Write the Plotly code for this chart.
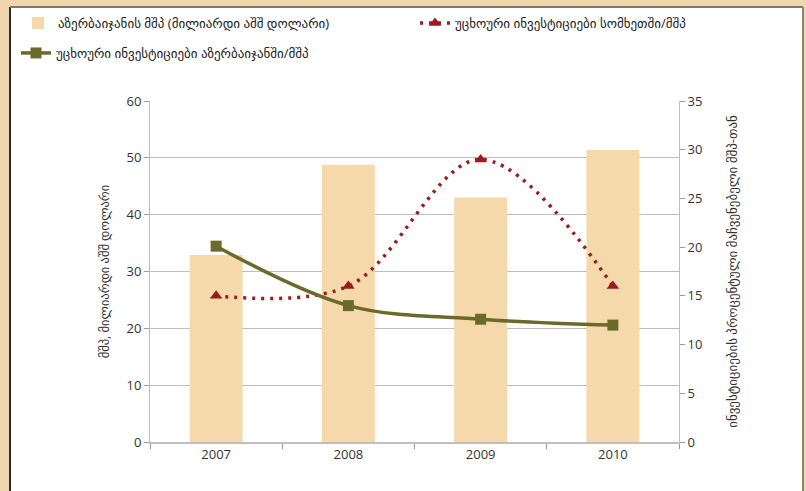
import plotly.graph_objects as go

years = ["2007", "2008", "2009", "2010"]
gdp_bn_usd = [32.9, 48.8, 43.0, 51.4]
fdi_armenia_pct = [15.0, 16.0, 29.0, 16.0]
fdi_azerbaijan_pct = [20.1, 14.0, 12.6, 12.0]

name_gdp = "აზერბაიჯანის მშპ (მილიარდი აშშ დოლარი)"
name_arm = "უცხოური ინვესტიციები სომხეთში/მშპ"
name_aze = "უცხოური ინვესტიციები აზერბაიჯანში/მშპ"
left_title = "მშპ, მილიარდი აშშ დოლარი"
right_title = "ინვესტიციების პროცენტული მაჩვენებელი მშპ-თან"

FONT = "Open Sans, DejaVu Sans, sans-serif"

fig = go.Figure()
fig.add_trace(go.Bar(x=years, y=gdp_bn_usd, name=name_gdp, marker=dict(color="#F5D9AA", line=dict(width=0)),
                     width=0.4, yaxis="y", legend="legend"))
fig.add_trace(go.Scatter(x=years, y=fdi_armenia_pct, name=name_arm, yaxis="y2", mode="lines+markers",
                         line=dict(color="#9B1B1E", width=3.5, dash="3px,6px", shape="spline", smoothing=1),
                         marker=dict(symbol="triangle-up", size=11, color="#9B1B1E"), legend="legend2"))
fig.add_trace(go.Scatter(x=years, y=fdi_azerbaijan_pct, name=name_aze, yaxis="y2", mode="lines+markers",
                         line=dict(color="#6B6A2A", width=3.5, shape="spline", smoothing=1),
                         marker=dict(symbol="square", size=11, color="#6B6A2A"), legend="legend3"))

W, H = 806, 491
L, R, T, B = 150, 127, 101, 49
pw, ph = W - L - R, H - T - B

def px_x(px):
    return (px - L) / pw

def px_y(py):
    return (H - B - py) / ph

def cx(px):
    return px / W

def cy(py):
    return 1 - py / H

fig.add_shape(type="rect", xref="paper", yref="paper",
              x0=px_x(10), x1=px_x(803), y0=px_y(520), y1=px_y(7),
              fillcolor="white", line=dict(width=0), layer="below")
fig.add_shape(type="line", xref="paper", yref="paper", x0=px_x(10), x1=px_x(10), y0=px_y(520), y1=px_y(7),
              line=dict(color="#2E2A26", width=2), layer="below")
fig.add_shape(type="line", xref="paper", yref="paper", x0=px_x(10), x1=px_x(803), y0=px_y(7), y1=px_y(7),
              line=dict(color="#7F776C", width=2), layer="below")
fig.add_shape(type="line", xref="paper", yref="paper", x0=px_x(803), x1=px_x(803), y0=px_y(520), y1=px_y(7),
              line=dict(color="#8F8472", width=2), layer="below")

legend_common = dict(orientation="h", xanchor="left", yanchor="middle", bgcolor="rgba(0,0,0,0)",
                     xref="container", yref="container",
                     font=dict(size=13, color="#222222"), itemwidth=30, tracegroupgap=0)

fig.update_layout(
    width=W, height=H,
    margin=dict(l=L, r=R, t=T, b=B, autoexpand=False),
    paper_bgcolor="#F2D6AE",
    plot_bgcolor="rgba(0,0,0,0)",
    font=dict(family=FONT, color="#333333", size=12),
    showlegend=True,
    legend=dict(x=cx(18), y=cy(23), **legend_common),
    legend2=dict(x=cx(415), y=cy(23), **legend_common),
    legend3=dict(x=cx(16), y=cy(53), **legend_common),
    xaxis=dict(type="category", showline=True, linecolor="#BFBFBF", linewidth=1.5,
               ticks="outside", tickson="boundaries", ticklen=5, tickcolor="#999999",
               tickfont=dict(size=13, color="#333333"), showgrid=False),
    yaxis=dict(range=[0, 60], dtick=10, showgrid=True, gridcolor="#BDBDBD", gridwidth=1.2,
               showline=True, linecolor="#BFBFBF", ticks="outside", ticklen=5, tickcolor="#999999",
               tickfont=dict(size=13, color="#333333"), zeroline=False,
               title=dict(text=left_title, font=dict(size=12.5, color="#333333"), standoff=14)),
    yaxis2=dict(range=[0, 35], dtick=5, overlaying="y", side="right", showgrid=False,
                showline=True, linecolor="#BFBFBF", ticks="outside", ticklen=5, tickcolor="#999999",
                tickfont=dict(size=13, color="#333333"), zeroline=False,
                title=dict(text=right_title, font=dict(size=13, color="#333333"), standoff=26)),
)

fig.write_html("out.html", config={"displayModeBar": False},
               post_script="document.body.style.margin='0';")
